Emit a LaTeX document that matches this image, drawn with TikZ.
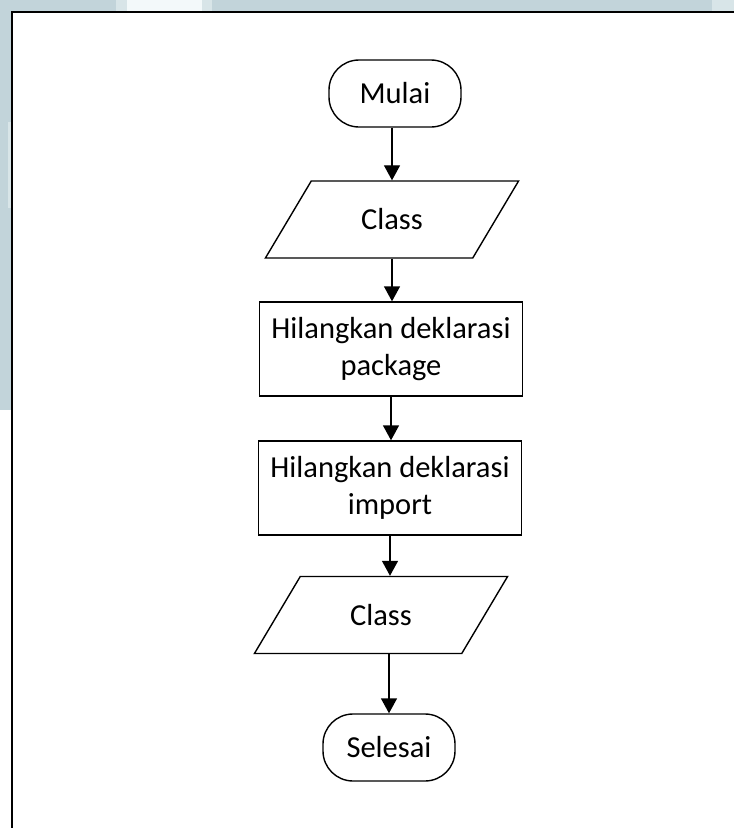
\documentclass[tikz,border=0pt]{standalone}
\usepackage{fontspec}
\setmainfont{Carlito}
\usetikzlibrary{shapes.geometric,arrows.meta}
\definecolor{deskblue}{HTML}{C2D4DA}
\definecolor{deskpale}{HTML}{F3F9FA}
\definecolor{deskmid}{HTML}{D8E5E8}
\tikzset{
  flow/.style={draw=black,line width=1.4pt,fill=white,align=center,
    font=\fontsize{30.5}{37}\selectfont,inner sep=0pt},
  term/.style={flow,rounded corners=30pt,minimum width=132pt,minimum height=67pt},
  proc/.style={flow,rectangle,minimum width=263pt,minimum height=94pt},
  io/.style={flow,trapezium,trapezium stretches=true,
    trapezium left angle=50.7,trapezium right angle=129.3,
    minimum width=254pt,minimum height=77pt},
  arr/.style={line width=1.4pt,-{Triangle[length=15pt,width=16pt]}}
}
\begin{document}
\begin{tikzpicture}[x=1pt,y=-1pt]
  \useasboundingbox (0,0) rectangle (734,828);
  % page surround
  \fill[white] (0,0) rectangle (734,828);
  \fill[deskblue] (0,0) rectangle (734,11);
  \fill[deskblue] (0,0) rectangle (11,410);
  \fill[deskmid] (116,0) rectangle (212,11);
  \fill[deskpale] (127,0) rectangle (202,11);
  \fill[deskmid] (712,0) rectangle (734,11);
  \fill[deskmid] (8,122) rectangle (11,208);
  % page border
  \draw[line width=2pt] (12,828) -- (12,12) -- (734,12);

  % flowchart
  \node[term] (m)  at (395,93.5)  {Mulai};
  \node[io]   (c1) at (392,219.5) {Class};
  \node[proc] (b1) at (391,349)   {Hilangkan deklarasi\\package};
  \node[proc] (b2) at (390,488)   {Hilangkan deklarasi\\import};
  \node[io]   (c2) at (381,615)   {Class};
  \node[term] (s)  at (389,747.5) {Selesai};

  \draw[arr] (c1.north |- m.south) -- (c1.north);
  \draw[arr] (c1.south) -- (c1.south |- b1.north);
  \draw[arr] (b1.south) -- (b1.south |- b2.north);
  \draw[arr] (b2.south) -- (b2.south |- c2.north);
  \draw[arr] (s.north |- c2.south) -- (s.north);
\end{tikzpicture}
\end{document}
